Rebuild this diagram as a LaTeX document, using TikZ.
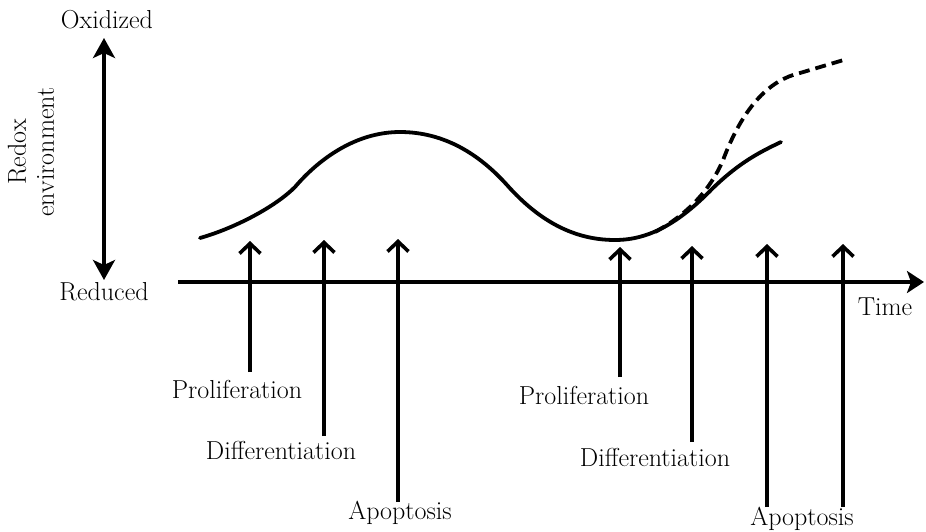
\documentclass[tikz,border=0pt]{standalone}
\usetikzlibrary{arrows.meta}
\begin{document}
\begin{tikzpicture}[x=1pt,y=-1pt,
  lbl/.style={anchor=base,inner sep=0pt,font=\fontsize{26}{28}\selectfont},
  thick line/.style={line width=3.6pt},
  uparrow/.style={line width=3.4pt,-{Straight Barb[length=10pt,width=21pt,line width=3.6pt]}},
  curvestyle/.style={line width=3.8pt},
]
\useasboundingbox (0,0) rectangle (926,531);

% left vertical axis
\node[lbl] (ox) at (107,28) {Oxidized};
\node[lbl] (red) at (104,300) {Reduced};
\node[lbl,rotate=90,align=center,anchor=center] (redox) at (31,152) {Redox\\environment};
\coordinate (vtop) at (104,38);
\coordinate (vbot) at (104,280);
\draw[thick line,{Stealth[length=20pt,width=22pt,inset=5pt]}-{Stealth[length=20pt,width=22pt,inset=5pt]}] (vtop) -- (vbot);

% time axis
\coordinate (tstart) at (178,282);
\coordinate (tend) at (924,282);
\draw[thick line,-{Stealth[length=17pt,width=22pt,inset=4pt]}] (tstart) -- (tend);
\node[lbl] (time) at (885,315) {Time};

% labels
\node[lbl] (p1) at (237,398) {Proliferation};
\node[lbl] (d1) at (281,459) {Differentiation};
\node[lbl] (a1) at (400,519) {Apoptosis};
\node[lbl] (p2) at (584,404) {Proliferation};
\node[lbl] (d2) at (655,466) {Differentiation};
\node[lbl] (a2) at (802,525) {Apoptosis};

% arrow ends
\coordinate (b1) at (250,372); \coordinate (t1) at (250,241);
\coordinate (b2) at (324,436); \coordinate (t2) at (324,240);
\coordinate (b3) at (398,502); \coordinate (t3) at (398,239);
\coordinate (b4) at (620,377); \coordinate (t4) at (620,247);
\coordinate (b5) at (692,442); \coordinate (t5) at (692,246);
\coordinate (b6) at (767,507); \coordinate (t6) at (767,244);
\coordinate (b7) at (843,507); \coordinate (t7) at (843,244);
\foreach \i in {1,...,7} { \draw[uparrow] (b\i) -- (t\i); }

% redox curve
\draw[curvestyle,line cap=round]
  (200,238) .. controls (235,228) and (275,207) .. (295,187)
  .. controls (318,160) and (355,132) .. (400,132)
  .. controls (445,132) and (480,155) .. (507,185)
  .. controls (540,222) and (575,240) .. (615,240)
  .. controls (650,240) and (680,222) .. (713,188)
  .. controls (740,162) and (760,152) .. (781,142);
% dashed branch
\draw[curvestyle,dash pattern=on 11pt off 6pt]
  (655,232) .. controls (685,216) and (712,190) .. (725,155)
  .. controls (745,105) and (770,80) .. (800,73)
  -- (847,59);
\end{tikzpicture}
\end{document}
